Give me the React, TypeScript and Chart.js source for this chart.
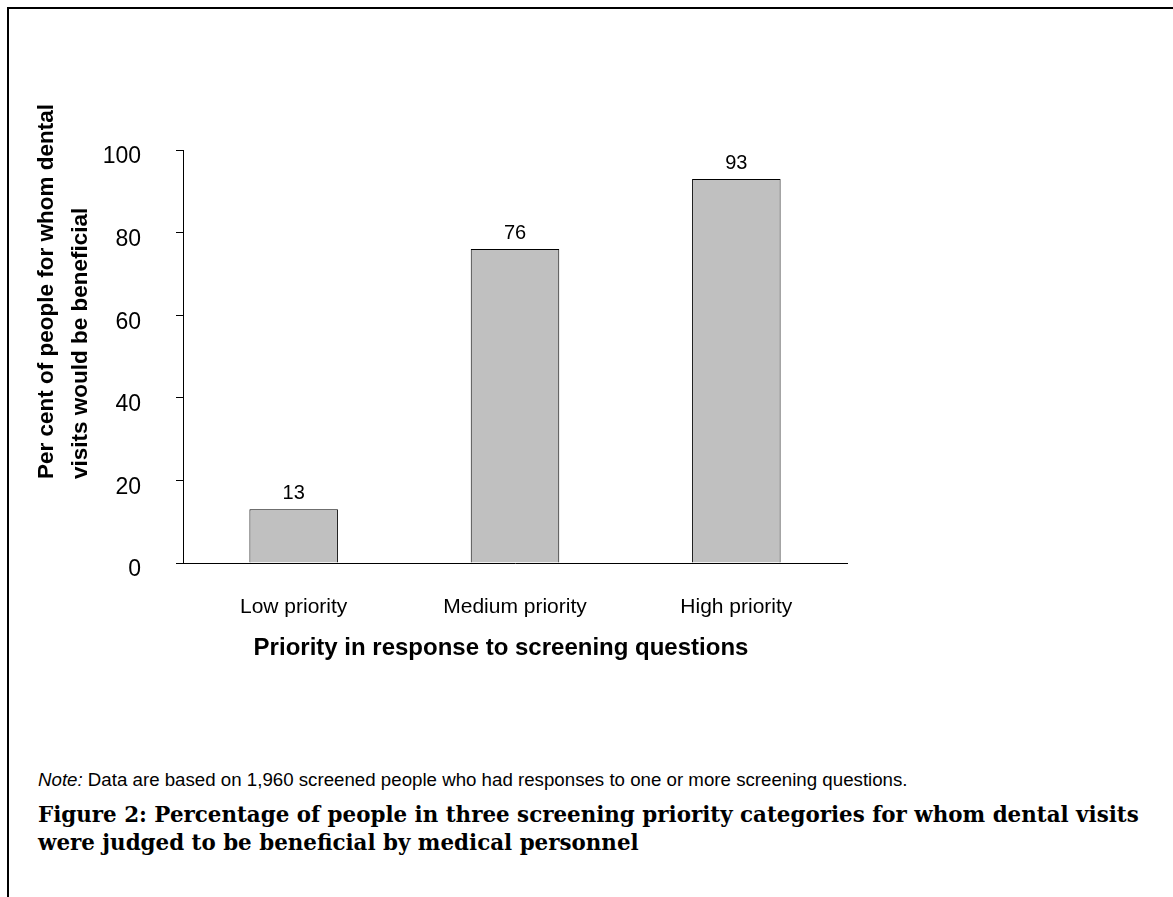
import React, { useEffect, useRef } from "react";
import { Chart, registerables } from "chart.js";

Chart.register(...registerables);

const categories = ["Low priority", "Medium priority", "High priority"];
const values = [13, 76, 93];
const yMin = 0;
const yMax = 100;
const yStep = 20;
const yTitleLines = ["Per cent of people for whom dental", "visits would be beneficial"];
const xTitle = "Priority in response to screening questions";
const noteLabel = "Note:";
const noteText = " Data are based on 1,960 screened people who had responses to one or more screening questions.";
const captionLines = [
  "Figure 2: Percentage of people in three screening priority categories for whom dental visits",
  "were judged to be beneficial by medical personnel",
];

const SANS = '"Liberation Sans", Arial, sans-serif';
const CANVAS_W = 1000;
const CANVAS_H = 700;

const annotate = {
  id: "annotate",
  afterDatasetsDraw(chart: any) {
    const { ctx, chartArea } = chart;
    const meta = chart.getDatasetMeta(0);
    ctx.save();
    ctx.fillStyle = "#000";
    // value labels above bars
    ctx.font = `20px ${SANS}`;
    ctx.textAlign = "center";
    ctx.textBaseline = "alphabetic";
    meta.data.forEach((bar: any, i: number) => {
      ctx.fillText(String(values[i]), bar.x, bar.y - 10);
    });
    // y axis title (two lines, rotated, start aligned)
    ctx.font = `bold 22.5px ${SANS}`;
    ctx.textAlign = "left";
    yTitleLines.forEach((line, i) => {
      ctx.save();
      ctx.translate(chartArea.left - 129.7 + i * 33.4, chartArea.bottom - 84);
      ctx.rotate(-Math.PI / 2);
      ctx.fillText(line, 0, 0);
      ctx.restore();
    });
    // x axis title
    ctx.font = `bold 24px ${SANS}`;
    ctx.textAlign = "center";
    ctx.fillText(xTitle, chartArea.left + 318, chartArea.bottom + 92);
    ctx.restore();
  },
};

function BarChart() {
  const ref = useRef<HTMLCanvasElement | null>(null);
  useEffect(() => {
    if (!ref.current) return;
    const chart = new Chart(ref.current, {
      type: "bar",
      data: {
        labels: categories,
        datasets: [
          {
            data: values,
            backgroundColor: "#C0C0C0",
            borderColor: "#000",
            borderWidth: 1,
            barPercentage: 0.4,
            categoryPercentage: 1.0,
          },
        ],
      },
      options: {
        animation: false,
        responsive: false,
        devicePixelRatio: 1,
        layout: { padding: { left: 0, top: 150, right: 153, bottom: 0 } },
        plugins: { legend: { display: false }, tooltip: { enabled: false } },
        scales: {
          x: {
            grid: { display: false },
            border: { display: true, color: "#000", width: 1 },
            ticks: {
              color: "#000",
              font: { family: SANS, size: 21 },
              padding: 24,
              maxRotation: 0,
            },
            afterFit: (scale: any) => {
              scale.height = 137;
            },
          },
          y: {
            min: yMin,
            max: yMax,
            grid: {
              display: true,
              drawOnChartArea: false,
              drawTicks: true,
              tickLength: 7,
              color: "#000",
              lineWidth: 1,
            },
            border: { display: true, color: "#000", width: 1 },
            ticks: {
              stepSize: yStep,
              color: "#000",
              font: { family: SANS, size: 23 },
              padding: 35,
              labelOffset: 7,
            },
            afterFit: (scale: any) => {
              scale.width = 183;
            },
          },
        },
      },
      plugins: [annotate],
    } as any);
    return () => chart.destroy();
  }, []);
  return (
    <canvas
      ref={ref}
      width={CANVAS_W}
      height={CANVAS_H}
      style={{ position: "absolute", left: 0, top: 0, width: CANVAS_W, height: CANVAS_H }}
    />
  );
}

export default function App() {
  return (
    <div
      style={{
        position: "absolute",
        left: 0,
        top: 0,
        width: 1173,
        height: 897,
        overflow: "hidden",
        background: "#fff",
      }}
    >
      <div
        style={{
          position: "absolute",
          left: 7,
          top: 7,
          right: -10,
          bottom: -10,
          borderTop: "2px solid #000",
          borderLeft: "2px solid #000",
        }}
      />
      <BarChart />
      <div
        style={{
          position: "absolute",
          left: 38,
          top: 771,
          fontFamily: SANS,
          fontSize: 18.7,
          lineHeight: "18.7px",
          whiteSpace: "nowrap",
          color: "#000",
        }}
      >
        <i>{noteLabel}</i>
        {noteText}
      </div>
      <div
        style={{
          position: "absolute",
          left: 38,
          top: 801,
          fontFamily: '"DejaVu Serif", "Liberation Serif", serif',
          fontWeight: "bold",
          fontSize: 21.4,
          lineHeight: "28px",
          whiteSpace: "nowrap",
          color: "#000",
        }}
      >
        {captionLines.map((l, i) => (
          <div key={i}>{l}</div>
        ))}
      </div>
    </div>
  );
}
